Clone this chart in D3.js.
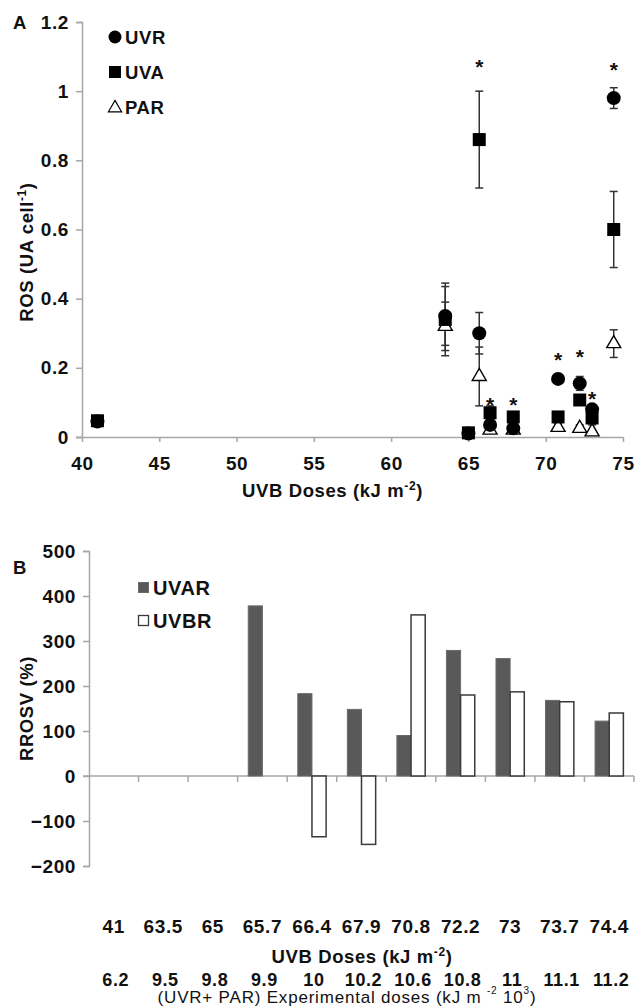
<!DOCTYPE html>
<html><head><meta charset="utf-8">
<script src="https://cdn.jsdelivr.net/npm/d3@7"></script>
<style>
html,body{margin:0;padding:0;background:#fff;}
svg{display:block;font-family:"Liberation Sans",Arial,sans-serif;}
</style></head>
<body>
<svg id="c" width="637" height="1008"></svg>
<script>
// ---------- Panel A data ----------
const dosesA = [41, 63.5, 65, 65.7, 66.4, 67.9, 70.8, 72.2, 73, 74.4];
const uvrVals = [0.045, 0.35, 0.010, 0.30, 0.035, 0.025, 0.168, 0.155, 0.080, 0.98];
const uvrErr  = [0, 0.085, 0, 0.06, 0.01, 0.005, 0.01, 0.02, 0.01, 0.03];
const uvaVals = [0.047, 0.34, 0.012, 0.86, 0.070, 0.058, 0.058, 0.107, 0.055, 0.60];
const uvaErr  = [0, 0.105, 0, 0.14, 0.02, 0.01, 0.01, 0.01, 0.02, 0.11];
const parVals = [null, 0.32, null, 0.175, 0.020, 0.020, 0.028, 0.025, 0.015, 0.27];
const parErr  = [0, 0.07, 0, 0.085, 0.005, 0.005, 0.01, 0.01, 0.005, 0.04];
const starDoses = [65.7, 66.4, 67.9, 70.8, 72.2, 73, 74.4];
const starVals  = [1.08, 0.10, 0.10, 0.23, 0.24, 0.12, 1.07];
const xTicksA = [40, 45, 50, 55, 60, 65, 70, 75];
const yTicksA = [0, 0.2, 0.4, 0.6, 0.8, 1, 1.2];

// ---------- Panel B data ----------
const uvbDoses = ["41","63.5","65","65.7","66.4","67.9","70.8","72.2","73","73.7","74.4"];
const expDoses = ["6.2","9.5","9.8","9.9","10","10.2","10.6","10.8","11","11.1","11.2"];
const uvarVals = [null, null, null, 378, 183, 148, 90, 279, 261, 168, 122];
const uvbrVals = [null, null, null, null, -135, -152, 358, 180, 187, 165, 140];
const yTicksB = [-200, -100, 0, 100, 200, 300, 400, 500];

const svg = d3.select("#c");
const axisCol = "#a6a6a6";
const FS = 19;      // tick labels
const TS = 18.5;    // titles
const LS = "0.6px"; // letter spacing (reference text is slightly wide)

function styleText(sel, size) {
  sel.attr("font-size", size).attr("font-weight", "bold").attr("fill", "#111")
    .attr("letter-spacing", LS).attr("font-family", "Liberation Sans, Arial, sans-serif");
}
function supTitle(t, main, sup, tail) {
  t.append("tspan").text(main);
  t.append("tspan").attr("dy", -7).attr("font-size", 12).text(sup);
  t.append("tspan").attr("dy", 7).text(tail);
}

// ================= Panel A =================
const xA = d3.scaleLinear().domain([40, 75]).range([82, 623]);
const yA = d3.scaleLinear().domain([0, 1.2]).range([437, 22]);

const gA = svg.append("g");
const axXA = gA.append("g").attr("transform", `translate(0,${yA(0)})`)
  .call(d3.axisBottom(xA).tickValues(xTicksA).tickSize(5).tickPadding(12).tickFormat(d3.format("d")));
const axYA = gA.append("g").attr("transform", `translate(${xA(40)},0)`)
  .call(d3.axisLeft(yA).tickValues(yTicksA).tickSize(6).tickPadding(7).tickFormat(d => d === 0 || d === 1 ? d : d.toFixed(1)));
[axXA, axYA].forEach(a => {
  a.selectAll("path,line").attr("stroke", axisCol).attr("stroke-width", 1.5);
  styleText(a.selectAll("text"), FS);
});
axXA.select(".domain").attr("d", `M${xA(40)-6},0.5H${xA(75)}`);
axXA.selectAll(".tick text").attr("dy", "0.85em");

function series(vals, errs) {
  return dosesA.map((d, i) => ({x: d, v: vals[i], e: errs[i]})).filter(o => o.v != null);
}
const cap = 4;
function errBars(data) {
  const g = gA.append("g").attr("stroke", "#333").attr("stroke-width", 1.5);
  data.filter(o => o.e > 0).forEach(o => {
    const x = xA(o.x), y1 = yA(o.v + o.e), y2 = yA(Math.max(0, o.v - o.e));
    g.append("line").attr("x1", x).attr("x2", x).attr("y1", y1).attr("y2", y2);
    g.append("line").attr("x1", x - cap).attr("x2", x + cap).attr("y1", y1).attr("y2", y1);
    g.append("line").attr("x1", x - cap).attr("x2", x + cap).attr("y1", y2).attr("y2", y2);
  });
}
const parS = series(parVals, parErr), uvrS = series(uvrVals, uvrErr), uvaS = series(uvaVals, uvaErr);
errBars(parS); errBars(uvrS); errBars(uvaS);

const triSym = d3.symbol().type(d3.symbolTriangle).size(85);
gA.append("g").selectAll("path").data(parS).join("path")
  .attr("d", triSym).attr("transform", d => `translate(${xA(d.x)},${yA(d.v)})`)
  .attr("fill", "#fff").attr("stroke", "#000").attr("stroke-width", 1.4);
gA.append("g").selectAll("circle").data(uvrS).join("circle")
  .attr("cx", d => xA(d.x)).attr("cy", d => yA(d.v)).attr("r", 7).attr("fill", "#000");
gA.append("g").selectAll("rect").data(uvaS).join("rect")
  .attr("x", d => xA(d.x) - 6.5).attr("y", d => yA(d.v) - 6.5).attr("width", 13).attr("height", 13).attr("fill", "#000");

gA.append("g").selectAll("text").data(starDoses.map((d, i) => ({x: d, v: starVals[i]}))).join("text")
  .attr("x", d => xA(d.x)).attr("y", d => yA(d.v) + 10).attr("text-anchor", "middle")
  .attr("font-size", 21).attr("font-weight", "bold").attr("fill", "#111").text("*");

styleText(gA.append("text").attr("x", 13).attr("y", 29).text("A"), TS);
gA.append("text").attr("x", (xA(40) + xA(75)) / 2 - 20).attr("y", 497).attr("text-anchor", "middle")
  .call(t => styleText(t, TS)).call(t => supTitle(t, "UVB Doses (kJ m", "-2", ")"));
gA.append("text").attr("transform", `translate(33,252) rotate(-90)`).attr("text-anchor", "middle")
  .call(t => styleText(t, TS)).call(t => supTitle(t, "ROS (UA cell", "-1", ")"));

const legA = gA.append("g");
legA.append("circle").attr("cx", 115).attr("cy", 37).attr("r", 6.5).attr("fill", "#000");
styleText(legA.append("text").attr("x", 125).attr("y", 44).text("UVR"), TS);
legA.append("rect").attr("x", 109).attr("y", 66).attr("width", 12).attr("height", 12).attr("fill", "#000");
styleText(legA.append("text").attr("x", 125).attr("y", 79).text("UVA"), TS);
legA.append("path").attr("d", d3.symbol().type(d3.symbolTriangle).size(75)).attr("transform", "translate(115,108)")
  .attr("fill", "#fff").attr("stroke", "#000").attr("stroke-width", 1.2);
styleText(legA.append("text").attr("x", 125).attr("y", 114).text("PAR"), TS);

// ================= Panel B =================
const xB = d3.scaleBand().domain(uvbDoses).range([89, 634]).paddingInner(0).paddingOuter(0);
const yB = d3.scaleLinear().domain([-200, 500]).range([866, 551]);
const gB = svg.append("g");
const axYB = gB.append("g").attr("transform", `translate(${xB.range()[0]},0)`)
  .call(d3.axisLeft(yB).tickValues(yTicksB).tickSize(6).tickPadding(7));
axYB.selectAll("path,line").attr("stroke", axisCol).attr("stroke-width", 1.5);
styleText(axYB.selectAll("text"), FS);

const zeroY = yB(0);
const gx = gB.append("g").attr("stroke", axisCol).attr("stroke-width", 1.5);
gx.append("line").attr("x1", xB.range()[0] - 6).attr("x2", xB.range()[1]).attr("y1", zeroY).attr("y2", zeroY);
uvbDoses.forEach(c => {
  const xr = xB(c) + xB.bandwidth();
  gx.append("line").attr("x1", xr).attr("x2", xr).attr("y1", zeroY).attr("y2", zeroY + 6);
});

const inner = d3.scaleBand().domain(["uvar", "uvbr"]).range([0, xB.bandwidth()]).paddingOuter(0.75).paddingInner(0);
const barsData = [];
uvbDoses.forEach((c, i) => {
  if (uvarVals[i] != null) barsData.push({c, k: "uvar", v: uvarVals[i]});
  if (uvbrVals[i] != null) barsData.push({c, k: "uvbr", v: uvbrVals[i]});
});
gB.append("g").selectAll("rect").data(barsData).join("rect")
  .attr("x", d => xB(d.c) + inner(d.k))
  .attr("width", inner.bandwidth())
  .attr("y", d => yB(Math.max(0, d.v)))
  .attr("height", d => Math.abs(yB(d.v) - yB(0)))
  .attr("fill", d => d.k === "uvar" ? "#595959" : "#fff")
  .attr("stroke", d => d.k === "uvar" ? "#6b6b6b" : "#3a3a3a")
  .attr("stroke-width", d => d.k === "uvar" ? 1 : 1.5);

const labB = gB.append("g").attr("text-anchor", "middle");
labB.selectAll("text.u").data(uvbDoses).join("text").attr("class", "u")
  .attr("x", d => xB(d) + xB.bandwidth() / 2).attr("y", 933).text(d => d).call(t => styleText(t, FS));
labB.selectAll("text.e").data(expDoses.map((e, i) => ({e, c: uvbDoses[i]}))).join("text").attr("class", "e")
  .attr("x", d => xB(d.c) + xB.bandwidth() / 2 + 2).attr("y", 986).text(d => d.e).call(t => styleText(t, 18));

gB.append("text").attr("x", 362).attr("y", 963).attr("text-anchor", "middle")
  .call(t => styleText(t, TS)).call(t => supTitle(t, "UVB Doses (kJ m", "-2", ")"));
gB.append("text").attr("x", 347).attr("y", 1003).attr("text-anchor", "middle")
  .attr("font-size", 17).attr("fill", "#111").attr("letter-spacing", "0.8px")
  .call(t => {
    t.append("tspan").text("(UVR+ PAR) Experimental doses (kJ m ");
    t.append("tspan").attr("dy", -9).attr("font-size", 10).text("-2");
    t.append("tspan").attr("dy", 9).text("  10");
    t.append("tspan").attr("dy", -9).attr("font-size", 10).text("3");
    t.append("tspan").attr("dy", 9).text(")");
  });
gB.append("text").attr("transform", `translate(33,${(yB(-200) + yB(500)) / 2}) rotate(-90)`).attr("text-anchor", "middle")
  .call(t => styleText(t, TS)).text("RROSV (%)");
styleText(gB.append("text").attr("x", 13).attr("y", 574).text("B"), TS);

const legB = gB.append("g");
legB.append("rect").attr("x", 138.5).attr("y", 582.5).attr("width", 10).attr("height", 10).attr("fill", "#595959").attr("stroke", "#6b6b6b");
styleText(legB.append("text").attr("x", 153).attr("y", 595).text("UVAR"), 20);
legB.append("rect").attr("x", 138.5).attr("y", 615.5).attr("width", 10).attr("height", 10).attr("fill", "#fff").attr("stroke", "#3a3a3a").attr("stroke-width", 1.3);
styleText(legB.append("text").attr("x", 153).attr("y", 628).text("UVBR"), 20);
</script>
</body></html>
